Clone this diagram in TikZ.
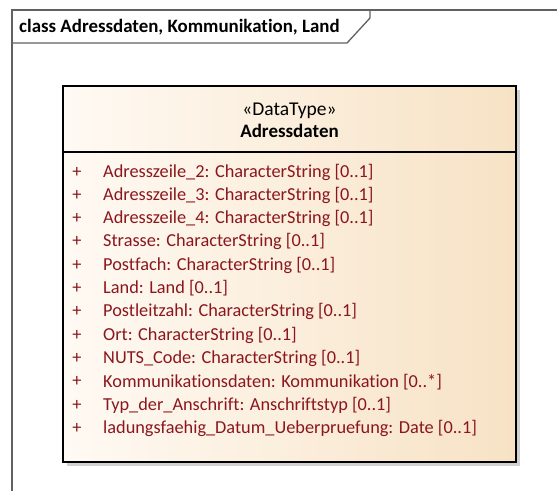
\documentclass[tikz,border=0pt]{standalone}
\usepackage{fontspec}
\setmainfont{Carlito}[Ligatures=NoCommon]
\begin{document}
\begin{tikzpicture}[x=1pt,y=-1pt,
  frameline/.style={draw=black!62,line width=1.3pt},
  attr/.style={anchor=west,inner sep=0pt,text=attrred,font=\fontsize{18.3}{20}\selectfont},
  plus/.style={anchor=center,inner sep=0pt,text=attrred,font=\fontsize{18.3}{20}\selectfont},
  hdr/.style={anchor=center,inner sep=0pt,font=\fontsize{19}{21}\selectfont}]
\definecolor{attrred}{RGB}{140,22,30}
\definecolor{boxleft}{RGB}{255,250,244}
\definecolor{boxright}{RGB}{247,226,196}
\useasboundingbox (0,0) rectangle (557,491);
\fill[white] (0,0) rectangle (557,491);
% frame
\draw[frameline] (12,491) -- (12,10) -- (557,10);
\draw[frameline] (12,43) -- (347,43) -- (370,18) -- (370,10);
\node[anchor=west,inner sep=0pt,font=\bfseries\fontsize{18.9}{21}\selectfont] (title) at (19,27) {class Adressdaten, Kommunikation, Land};
% shadow
\fill[black!18] (67,90) rectangle (520,466);
% box
\shade[left color=boxleft,right color=boxright] (63,86) rectangle (516,462);
\draw[black,line width=1.3pt] (63,86) rectangle (516,462);
\draw[black,line width=1.3pt] (63,152) -- (516,152);
\node[hdr,font=\fontsize{19.5}{21}\selectfont] (stereo) at (289.5,111) {«DataType»};
\node[hdr,font=\bfseries\fontsize{19}{21}\selectfont] (cname) at (289.5,131) {Adressdaten};
\foreach \t [count=\i from 0] in {
  Adresszeile\_2: CharacterString [0..1],
  Adresszeile\_3: CharacterString [0..1],
  Adresszeile\_4: CharacterString [0..1],
  Strasse: CharacterString [0..1],
  Postfach: CharacterString [0..1],
  Land: Land [0..1],
  Postleitzahl: CharacterString [0..1],
  Ort: CharacterString [0..1],
  NUTS\_Code: CharacterString [0..1],
  Kommunikationsdaten: Kommunikation [0..*],
  Typ\_der\_Anschrift: Anschriftstyp [0..1],
  ladungsfaehig\_Datum\_Ueberpruefung: Date [0..1]}
{
  \node[plus] (p\i) at (77,172+23.3*\i) {+};
  \node[attr] (a\i) at (103,172+23.3*\i) {\t};
}
\end{tikzpicture}
\end{document}
